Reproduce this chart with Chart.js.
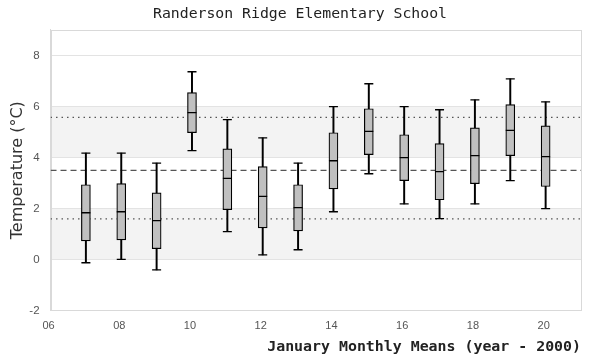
<!DOCTYPE html>
<html>
<head>
<meta charset="utf-8">
<script src="https://cdn.jsdelivr.net/npm/chart.js@4.4.1/dist/chart.umd.min.js"></script>
<style>
  html, body { margin: 0; padding: 0; background: #ffffff; }
  #wrap { width: 600px; height: 360px; }
</style>
</head>
<body>
<div id="wrap"><canvas id="c" width="600" height="360"></canvas></div>
<script>
// ---- data ----
const years        = [7, 8, 9, 10, 11, 12, 13, 14, 15, 16, 17, 18, 19, 20];
const whiskerLow   = [-0.13, 0.0, -0.41, 4.27, 1.09, 0.18, 0.38, 1.87, 3.36, 2.18, 1.60, 2.18, 3.09, 1.99];
const quartile1    = [0.73, 0.77, 0.42, 4.97, 1.95, 1.24, 1.12, 2.77, 4.11, 3.09, 2.34, 2.97, 4.07, 2.86];
const medians      = [1.83, 1.87, 1.52, 5.76, 3.18, 2.47, 2.03, 3.87, 5.02, 3.99, 3.44, 4.07, 5.06, 4.03];
const quartile3    = [2.93, 2.97, 2.61, 6.54, 4.34, 3.64, 2.93, 4.97, 5.91, 4.89, 4.54, 5.16, 6.07, 5.24];
const whiskerHigh  = [4.17, 4.17, 3.78, 7.36, 5.48, 4.77, 3.78, 5.99, 6.89, 5.99, 5.87, 6.26, 7.08, 6.18];
const meanLine     = 3.49;
const lowerLine    = 1.59;
const upperLine    = 5.57;
const bandLows     = [0, 4];
const bandHighs    = [2, 6];
const xRange       = [6, 21];
const yRange       = [-2, 9];
const xTickStep    = 2;
const yTickStep    = 2;
const titleText    = 'Randerson Ridge Elementary School';
const xTitleText   = 'January Monthly Means (year - 2000)';
const yTitleText   = 'Temperature (°C)';

// ---- datasets built from the arrays ----
const boxData     = years.map((x, i) => ({ x: x, y: [quartile1[i], quartile3[i]] }));
const whiskerData = years.map((x, i) => ({ x: x, y: [whiskerLow[i], whiskerHigh[i]] }));
const medianData  = years.map((x, i) => ({ x: x, y: medians[i] }));
const capData     = years.flatMap((x, i) => [{ x: x, y: whiskerLow[i] }, { x: x, y: whiskerHigh[i] }]);
const hLine = (v) => [{ x: xRange[0], y: v }, { x: xRange[1], y: v }];

const datasets = [];
bandHighs.forEach((hi, i) => {
  datasets.push({ type: 'line', data: hLine(hi), borderWidth: 0, borderColor: 'rgba(0,0,0,0)',
                  pointRadius: 0, fill: { value: bandLows[i] }, backgroundColor: '#f3f3f3', order: 10 });
});
datasets.push({ type: 'line', data: hLine(meanLine), borderColor: '#555', borderWidth: 1.2,
                borderDash: [6, 4], pointRadius: 0, fill: false, order: 5 });
datasets.push({ type: 'line', data: hLine(lowerLine), borderColor: '#555', borderWidth: 1.2,
                borderDash: [1.5, 4], pointRadius: 0, fill: false, order: 5 });
datasets.push({ type: 'line', data: hLine(upperLine), borderColor: '#555', borderWidth: 1.2,
                borderDash: [1.5, 4], pointRadius: 0, fill: false, order: 5 });
datasets.push({ type: 'bar', data: whiskerData, backgroundColor: '#000', borderWidth: 0,
                barThickness: 1.3, grouped: false, order: 3 });
datasets.push({ type: 'bar', data: boxData, backgroundColor: '#c0c0c0', borderColor: '#000',
                borderWidth: 1.2, borderSkipped: false, barThickness: 9, grouped: false, order: 2 });
datasets.push({ type: 'scatter', data: capData, pointStyle: 'line', pointRadius: 4.5,
                pointBorderColor: '#000', pointBorderWidth: 1.3, order: 1 });
datasets.push({ type: 'scatter', data: medianData, pointStyle: 'line', pointRadius: 4.5,
                pointBorderColor: '#000', pointBorderWidth: 1.3, order: 0 });

const framePlugin = {
  id: 'frame',
  beforeDatasetsDraw(chart) {
    const a = chart.chartArea, ctx = chart.ctx;
    ctx.save();
    ctx.strokeStyle = '#d9d9d9';
    ctx.lineWidth = 1;
    ctx.strokeRect(Math.round(a.left) + 0.5, Math.round(a.top) + 0.5,
                   Math.round(a.right - a.left), Math.round(a.bottom - a.top));
    ctx.restore();
  }
};

new Chart(document.getElementById('c'), {
  type: 'bar',
  data: { datasets: datasets },
  plugins: [framePlugin],
  options: {
    responsive: false,
    animation: false,
    events: [],
    layout: { padding: { left: 19, right: 19, top: 0, bottom: 4 } },
    plugins: {
      legend: { display: false },
      tooltip: { enabled: false },
      filler: { drawTime: 'beforeDraw' },
      title: {
        display: true, text: titleText, color: '#222',
        font: { family: '"DejaVu Sans Mono", monospace', size: 14.8, weight: 'normal' },
        padding: { top: 5, bottom: 7.2 }
      }
    },
    scales: {
      x: {
        type: 'linear', min: xRange[0], max: xRange[1], offset: false,
        grid: { display: false, drawTicks: false },
        border: { display: true, color: '#d9d9d9' },
        ticks: {
          stepSize: xTickStep, includeBounds: false, padding: 8.5, labelOffset: -2,
          color: '#555', font: { family: '"Liberation Sans", Arial, sans-serif', size: 11 },
          maxRotation: 0, autoSkip: false,
          callback: (v) => (v % 2 === 0 ? String(v).padStart(2, '0') : '')
        },
        title: {
          display: true, text: xTitleText, align: 'end', color: '#222',
          font: { family: '"DejaVu Sans Mono", monospace', size: 14.9, weight: 'bold' },
          padding: { top: -2.5, bottom: 0 }
        }
      },
      y: {
        min: yRange[0], max: yRange[1],
        grid: { color: '#e3e3e3', drawTicks: false },
        border: { display: true, color: '#d9d9d9' },
        ticks: {
          stepSize: yTickStep, includeBounds: false, padding: 11,
          color: '#555', font: { family: '"Liberation Sans", Arial, sans-serif', size: 11.5 }
        },
        title: {
          display: true, text: yTitleText, color: '#333',
          font: { family: '"DejaVu Sans", sans-serif', size: 16, weight: 'normal' },
          padding: { top: -10.6, bottom: -9.3 }
        }
      }
    }
  }
});
</script>
</body>
</html>
